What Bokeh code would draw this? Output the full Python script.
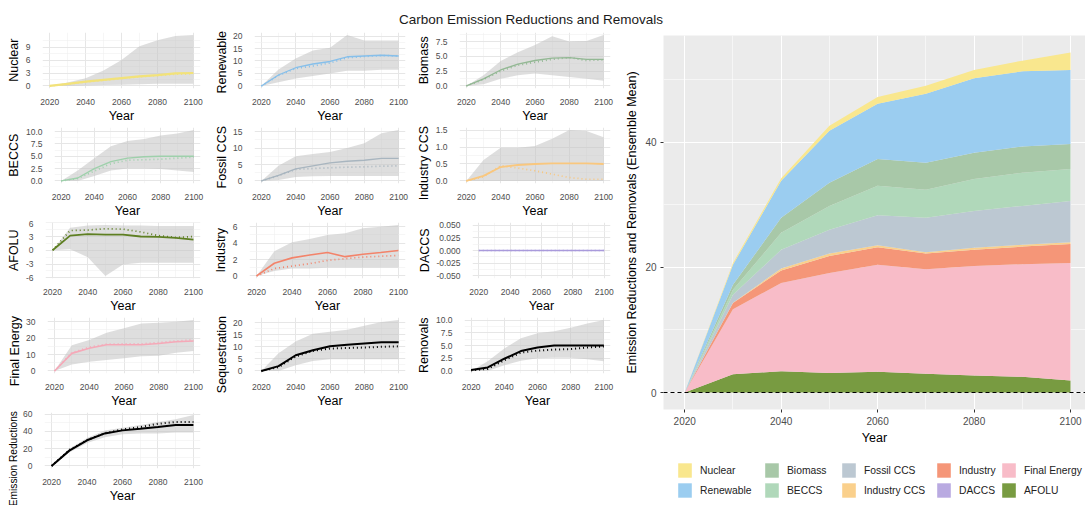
import math
from bokeh.plotting import figure
from bokeh.layouts import column, row
from bokeh.models import Div, Range1d, FixedTicker, Legend, LegendItem, Span, ColumnDataSource, Title
from bokeh.embed import file_html
from bokeh.resources import INLINE

FONT = "Liberation Sans"

years = [2020, 2030, 2040, 2050, 2060, 2070, 2080, 2090, 2100]
x_ticks = [2020, 2040, 2060, 2080, 2100]

# ---- small panels: solid line (mean), dotted line (alt), grey band (lo..hi)
nuclear_mean = [0, 0.5, 1.0, 1.4, 1.8, 2.2, 2.5, 2.9, 3.0]
nuclear_alt = [0, 0.4, 0.9, 1.3, 1.7, 2.1, 2.4, 2.7, 2.8]
nuclear_lo = [0, 0, 0.1, 0.2, 0.3, 0.4, 0.5, 0.5, 0.5]
nuclear_hi = [0, 0.8, 1.8, 3.6, 6.0, 9.2, 10.6, 11.6, 11.8]

renewable_mean = [0, 4.4, 7.3, 8.8, 9.8, 11.7, 12.0, 12.3, 12.0]
renewable_alt = [0, 4.2, 7.0, 8.0, 9.2, 11.3, 11.8, 12.2, 12.0]
renewable_lo = [0, 1.5, 3.0, 4.0, 5.0, 6.1, 6.1, 6.5, 6.5]
renewable_hi = [0, 6.6, 11.0, 14.2, 15.3, 20.4, 18.2, 18.2, 18.2]

biomass_mean = [0, 1.2, 2.7, 3.7, 4.3, 4.7, 4.8, 4.5, 4.5]
biomass_alt = [0, 1.1, 2.5, 3.5, 4.0, 4.5, 4.8, 4.3, 4.4]
biomass_lo = [0, 0.3, 1.2, 1.8, 2.1, 1.8, 1.5, 1.2, 0.9]
biomass_hi = [0, 1.8, 4.2, 5.7, 6.9, 8.4, 7.5, 7.6, 8.6]

beccs_mean = [0, 0.6, 2.5, 3.9, 4.6, 4.9, 5.0, 5.0, 5.0]
beccs_alt = [0, 0.5, 2.0, 3.5, 4.2, 4.3, 4.4, 4.6, 4.8]
beccs_lo = [0, 0, 1.0, 2.1, 2.5, 2.5, 2.4, 2.1, 1.8]
beccs_hi = [0, 2.1, 4.6, 7.0, 8.1, 8.5, 9.2, 9.6, 10.3]

fossil_ccs_mean = [0, 1.7, 3.7, 4.6, 5.5, 6.0, 6.3, 6.9, 6.9]
fossil_ccs_alt = [0, 1.6, 3.5, 3.8, 4.0, 4.2, 4.3, 4.5, 4.6]
fossil_ccs_lo = [0, 0.3, 1.2, 1.4, 1.5, 1.5, 1.5, 1.5, 1.5]
fossil_ccs_hi = [0, 4.6, 7.5, 8.2, 8.8, 10.0, 11.5, 14.5, 15.5]

industry_ccs_mean = [0, 0.15, 0.41, 0.47, 0.50, 0.52, 0.52, 0.52, 0.50]
industry_ccs_alt = [0, 0.12, 0.45, 0.38, 0.30, 0.20, 0.10, 0.05, 0.05]
industry_ccs_lo = [0, 0, 0, 0, 0, 0, 0, 0, 0]
industry_ccs_hi = [0, 0.62, 0.98, 0.98, 1.03, 1.24, 1.50, 1.47, 1.29]

afolu_mean = [0, 3.2, 3.5, 3.4, 3.4, 3.0, 2.9, 2.7, 2.3]
afolu_alt = [0, 4.3, 4.4, 4.7, 4.6, 4.0, 3.2, 2.8, 3.0]
afolu_lo = [0, 0.2, -1.5, -5.6, -3.1, -2.7, -2.7, -2.7, -2.7]
afolu_hi = [0, 4.9, 5.4, 5.5, 5.4, 5.4, 5.3, 5.3, 5.3]

industry_mean = [0, 1.55, 2.2, 2.55, 2.85, 2.35, 2.65, 2.85, 3.1]
industry_alt = [0, 0.9, 1.2, 1.5, 1.9, 2.1, 2.3, 2.4, 2.5]
industry_lo = [0, 0.6, 0.9, 0.9, 1.0, 1.0, 1.0, 1.0, 1.0]
industry_hi = [0, 3.0, 4.1, 4.5, 5.0, 5.2, 5.8, 6.0, 6.2]

daccs_mean = [0, 0, 0, 0, 0, 0, 0, 0, 0]
daccs_alt = [0, 0, 0, 0, 0, 0, 0, 0, 0]
daccs_lo = [0, 0, 0, 0, 0, 0, 0, 0, 0]
daccs_hi = [0, 0, 0, 0, 0, 0, 0, 0, 0]

final_energy_mean = [0, 10.7, 13.8, 16.0, 16.0, 16.0, 16.7, 17.8, 18.2]
final_energy_alt = [0, 11.0, 14.5, 16.3, 16.5, 16.5, 17.3, 18.3, 19.0]
final_energy_lo = [0, 4.0, 5.6, 6.7, 7.8, 8.9, 9.3, 11.1, 12.2]
final_energy_hi = [0, 15.6, 18.9, 23.3, 26.0, 28.9, 29.3, 30.0, 31.0]

sequestration_mean = [0, 2.0, 6.5, 8.6, 10.2, 10.9, 11.4, 11.9, 11.9]
sequestration_alt = [0, 1.6, 6.0, 8.3, 9.3, 9.5, 9.7, 10.0, 10.2]
sequestration_lo = [0, 0, 2.4, 4.1, 4.9, 4.9, 4.9, 4.9, 4.9]
sequestration_hi = [0, 7.3, 12.2, 15.4, 16.3, 17.1, 18.7, 20.3, 21.1]

removals_mean = [0.2, 0.7, 2.4, 3.9, 4.6, 5.0, 5.0, 5.0, 5.0]
removals_alt = [0.1, 0.4, 2.1, 3.6, 4.0, 4.2, 4.3, 4.6, 4.8]
removals_lo = [0, 0, 1.1, 2.0, 2.5, 2.6, 2.6, 2.3, 1.9]
removals_hi = [0, 1.9, 4.4, 6.4, 7.4, 7.8, 8.5, 9.3, 10.0]

reductions_mean = [0, 17.8, 29.8, 37.8, 41.3, 43.1, 45.3, 47.6, 47.6]
reductions_alt = [0, 18.5, 30.0, 38.0, 42.5, 45.0, 49.0, 51.0, 51.0]
reductions_lo = [0, 15.6, 26.7, 33.3, 36.9, 37.8, 37.8, 38.7, 38.7]
reductions_hi = [0, 20.0, 32.4, 41.3, 44.4, 47.6, 51.1, 54.2, 59.1]

# ---- big stacked panel (ensemble mean), bottom layer first
stack_afolu = [0, 2.9, 3.4, 3.1, 3.3, 3.0, 2.7, 2.5, 1.9]
stack_final_energy = [0, 10.4, 14.1, 16.0, 17.1, 16.7, 17.5, 18.0, 18.8]
stack_daccs = [0, 0, 0, 0, 0, 0, 0, 0, 0]
stack_industry = [0, 1.0, 2.0, 2.7, 2.8, 2.5, 2.6, 2.8, 3.0]
stack_industry_ccs = [0, 0.05, 0.3, 0.4, 0.3, 0.2, 0.3, 0.3, 0.3]
stack_fossil_ccs = [0, 1.25, 3.0, 3.8, 4.8, 5.5, 5.9, 6.2, 6.6]
stack_beccs = [0, 0.8, 2.7, 3.8, 4.7, 4.5, 5.1, 5.3, 5.1]
stack_biomass = [0, 0.8, 2.4, 3.7, 4.3, 4.3, 4.2, 4.2, 4.0]
stack_renewable = [0, 3.2, 5.9, 8.3, 8.8, 11.0, 11.9, 12.0, 11.8]
stack_nuclear = [0, 0.3, 0.4, 0.8, 1.1, 1.3, 1.3, 1.7, 2.8]

legend_labels = ["Nuclear", "Renewable", "Biomass", "BECCS", "Fossil CCS",
                 "Industry CCS", "Industry", "DACCS", "Final Energy", "AFOLU"]
fill_colors = ["#F9E78E", "#9BCDF0", "#A8C8A8", "#B0D8BA", "#BCC8D2",
               "#FAD08C", "#F59678", "#B9AAE1", "#F8BCC8", "#789B41"]

# approximate Arial / Liberation Sans advance widths (em) for layout estimates
_W = {"A": .667, "B": .667, "C": .722, "D": .722, "E": .667, "F": .611, "I": .278,
      "L": .556, "N": .722, "O": .778, "R": .722, "S": .667, "U": .722, "Y": .667,
      "a": .556, "b": .556, "c": .5, "d": .556, "e": .556, "g": .556, "i": .222,
      "l": .222, "m": .833, "n": .556, "o": .556, "q": .556, "r": .333, "s": .5,
      "t": .278, "u": .556, "v": .5, "w": .722, "y": .5, " ": .278, ".": .278, "-": .333}


def text_w(s, px):
    return sum(_W.get(c, .556) for c in s) * px


def style_axes(p, tick_px, label_px):
    for ax in (p.xaxis[0], p.yaxis[0]):
        ax.major_label_text_font = FONT
        ax.major_label_text_font_size = tick_px
        ax.major_label_text_color = "#4D4D4D"
        ax.axis_label_text_font = FONT
        ax.axis_label_text_font_size = label_px
        ax.axis_label_text_font_style = "normal"
        ax.axis_label_text_color = "#000000"
        ax.axis_line_color = None
        ax.minor_tick_line_color = None


def minor_of(ticks):
    step = ticks[1] - ticks[0]
    return [ticks[0] - step / 2] + [t + step / 2 for t in ticks]


SMALL_H = 95
SMALL_TOP = 2
SMALL_XAXIS = 36.5
TICK_PX = 8.5


def small_panel(ylabel, mean, alt, lo, hi, color, yticks, decimals, width, pad,
                lw=1.3, dot_w=1.7, label_px=12.5):
    vals = mean + alt + lo + hi
    vmin, vmax = min(vals), max(vals)
    d = (vmax - vmin) * 0.05
    if d == 0:
        d = 0.055
    xs = (years[-1] - years[0]) * 0.05
    tick_labels = [f"{t:.{decimals}f}" for t in yticks]
    tick_w = max(text_w(s, TICK_PX) for s in tick_labels)
    left = int(math.ceil(pad + label_px * 1.2 + 4 + tick_w + 8))
    p = figure(width=width, height=SMALL_H, output_backend="svg", toolbar_location=None,
               x_range=Range1d(years[0] - xs, years[-1] + xs),
               y_range=Range1d(vmin - d, vmax + d),
               min_border_top=SMALL_TOP, min_border_bottom=0, min_border_left=left,
               min_border_right=5, background_fill_color="white",
               border_fill_color="white", outline_line_color=None)
    p.varea(x=years, y1=lo, y2=hi, fill_color="#C2C2C2", fill_alpha=0.55)
    p.line(years, alt, line_color=color, line_width=dot_w, line_dash="1 3")
    p.line(years, mean, line_color=color, line_width=lw)
    p.xaxis.ticker = FixedTicker(ticks=x_ticks, minor_ticks=minor_of(x_ticks))
    p.yaxis.ticker = FixedTicker(ticks=yticks, minor_ticks=minor_of(yticks))
    p.yaxis.major_label_overrides = {t: s for t, s in zip(yticks, tick_labels)}
    p.xaxis.axis_label = "Year"
    style_axes(p, f"{TICK_PX}px", "12.5px")
    for ax in (p.xaxis[0], p.yaxis[0]):
        ax.major_tick_line_color = None
        ax.major_tick_out = 0
        ax.major_tick_in = 0
    p.xaxis.major_label_standoff = 6
    p.xaxis.axis_label_standoff = 1
    p.yaxis.major_label_standoff = 8
    for g in (p.xgrid[0], p.ygrid[0]):
        g.grid_line_color = "#E6E6E6"
        g.grid_line_width = 1
        g.minor_grid_line_color = "#F0F0F0"
        g.minor_grid_line_width = 0.6
    # y-axis title on the left side; centred on the frame, pushed down if too long
    L = text_w(ylabel, label_px)
    frame_h = SMALL_H - SMALL_TOP - SMALL_XAXIS
    centre = max(SMALL_TOP + frame_h / 2, L / 2 + 1)
    offset = (SMALL_TOP + frame_h) - (centre + L / 2)
    t = Title(text=ylabel, align="left", offset=offset, standoff=4,
              text_font=FONT, text_font_size=f"{label_px}px",
              text_font_style="normal", text_color="#000000")
    p.add_layout(t, "left")
    return p


W1, W2, W3 = 205, 205, 205

p_nuc = small_panel("Nuclear", nuclear_mean, nuclear_alt, nuclear_lo, nuclear_hi,
                    "#F2E27A", [0, 3, 6, 9], 0, W1, 10, lw=2.2)
p_ren = small_panel("Renewable", renewable_mean, renewable_alt, renewable_lo, renewable_hi,
                    "#86BFEA", [0, 5, 10, 15, 20], 0, W2, 12)
p_bio = small_panel("Biomass", biomass_mean, biomass_alt, biomass_lo, biomass_hi,
                    "#93B894", [0, 2.5, 5.0, 7.5], 1, W3, 10)
p_bec = small_panel("BECCS", beccs_mean, beccs_alt, beccs_lo, beccs_hi,
                    "#9ED0AB", [0, 2.5, 5.0, 7.5, 10.0], 1, W1, 10)
p_fcc = small_panel("Fossil CCS", fossil_ccs_mean, fossil_ccs_alt, fossil_ccs_lo, fossil_ccs_hi,
                    "#A8B5BF", [0, 5, 10, 15], 0, W2, 12)
p_icc = small_panel("Industry CCS", industry_ccs_mean, industry_ccs_alt, industry_ccs_lo,
                    industry_ccs_hi, "#F9C77E", [0, 0.5, 1.0, 1.5], 1, W3, 10, lw=1.8)
p_afo = small_panel("AFOLU", afolu_mean, afolu_alt, afolu_lo, afolu_hi,
                    "#5E7F22", [-6, -3, 0, 3, 6], 0, W1, 10, lw=1.8)
p_ind = small_panel("Industry", industry_mean, industry_alt, industry_lo, industry_hi,
                    "#F3836A", [0, 2, 4, 6], 0, W2, 12, lw=1.6)
p_dac = small_panel("DACCS", daccs_mean, daccs_alt, daccs_lo, daccs_hi,
                    "#A99ADB", [-0.05, -0.025, 0, 0.025, 0.05], 3, W3, 10)
p_fen = small_panel("Final Energy", final_energy_mean, final_energy_alt, final_energy_lo,
                    final_energy_hi, "#F5A9B8", [0, 10, 20, 30], 0, W1, 10, lw=1.6)
p_seq = small_panel("Sequestration", sequestration_mean, sequestration_alt, sequestration_lo,
                    sequestration_hi, "#000000", [0, 5, 10, 15, 20], 0, W2, 12,
                    lw=2.0, dot_w=2.0)
p_rem = small_panel("Removals", removals_mean, removals_alt, removals_lo, removals_hi,
                    "#000000", [0, 2.5, 5.0, 7.5, 10.0], 1, W3, 10, lw=2.0, dot_w=2.0)
p_red = small_panel("Emission Reductions", reductions_mean, reductions_alt, reductions_lo,
                    reductions_hi, "#000000", [0, 20, 40, 60], 0, W1, 10,
                    lw=2.0, dot_w=2.0, label_px=10.2)

# ---- big stacked area chart
stack_keys = ["afolu", "final_energy", "daccs", "industry", "industry_ccs",
              "fossil_ccs", "beccs", "biomass", "renewable", "nuclear"]
stack_data = [stack_afolu, stack_final_energy, stack_daccs, stack_industry,
              stack_industry_ccs, stack_fossil_ccs, stack_beccs, stack_biomass,
              stack_renewable, stack_nuclear]
src = ColumnDataSource(dict(year=years, **{k: v for k, v in zip(stack_keys, stack_data)}))
totals = [sum(vals) for vals in zip(*stack_data)]
tmax = max(totals)
ypad = tmax * 0.05

BIG_W, BIG_H, LEG_H = 470, 417, 58
BIG_LEFT = 48
big = figure(width=BIG_W, height=BIG_H, output_backend="svg", toolbar_location=None,
             x_range=Range1d(2015.6, 2103.1), y_range=Range1d(-ypad, tmax + ypad),
             min_border_top=5, min_border_right=0, min_border_left=BIG_LEFT,
             min_border_bottom=38,
             background_fill_color="#EBEBEB", border_fill_color="white",
             outline_line_color=None)
colors_bottom_up = list(reversed(fill_colors))
renderers = big.varea_stack(stackers=stack_keys, x="year", color=colors_bottom_up, source=src)
big.add_layout(Span(location=0, dimension="width", line_color="#000000",
                    line_dash="4 3", line_width=1.2))

big.xaxis.ticker = FixedTicker(ticks=x_ticks, minor_ticks=minor_of(x_ticks))
y_big_ticks = [0, 20, 40]
big.yaxis.ticker = FixedTicker(ticks=y_big_ticks, minor_ticks=minor_of(y_big_ticks))
big.xaxis.axis_label = "Year"
big.yaxis.axis_label = "Emission Reductions and Removals (Ensemble Mean)"
style_axes(big, "10px", "12.5px")
for ax in (big.xaxis[0], big.yaxis[0]):
    ax.major_tick_line_color = "#333333"
    ax.major_tick_out = 3
    ax.major_tick_in = 0
    ax.major_label_standoff = 3
    ax.axis_label_standoff = 3
for g in (big.xgrid[0], big.ygrid[0]):
    g.grid_line_color = "white"
    g.grid_line_width = 1.1
    g.minor_grid_line_color = "white"
    g.minor_grid_line_width = 0.55

# ---- legend strip under the big panel: five columns of two entries.
# The swatches come from the same stacked source, drawn outside this strip's
# visible range, so only the legend shows.
leg = figure(width=BIG_W, height=LEG_H, output_backend="svg", toolbar_location=None,
             x_axis_location=None, y_axis_location=None, min_border=0,
             x_range=Range1d(0, 1), y_range=Range1d(0, 1),
             outline_line_color=None, background_fill_color="white",
             border_fill_color="white")
leg.xgrid.visible = False
leg.ygrid.visible = False
leg_rends = leg.varea_stack(stackers=stack_keys, x="year", color=colors_bottom_up, source=src)
swatch = dict(zip(reversed(legend_labels), leg_rends))
legend_cols_x = [13, 100, 177, 272, 337]
for ci, lx in enumerate(legend_cols_x):
    labs = legend_labels[2 * ci: 2 * ci + 2]
    lg = Legend(items=[LegendItem(label=lab, renderers=[swatch[lab]]) for lab in labs],
                orientation="vertical", location=(lx, 6),
                glyph_width=17, glyph_height=18, label_standoff=7, spacing=2,
                label_text_font=FONT, label_text_font_size="10.3px",
                label_text_color="#222222", border_line_color=None,
                background_fill_alpha=0, padding=0, margin=0)
    leg.add_layout(lg)

title = Div(text=('<div style="width:1062px;text-align:center;font-family:\'Liberation Sans\';'
                  'font-size:13.5px;line-height:16px;color:#1a1a1a;padding-top:12px">'
                  'Carbon Emission Reductions and Removals</div>'),
            width=1085, height=30, margin=(0, 0, 0, 0))

grid = column(row(p_nuc, p_ren, p_bio), row(p_bec, p_fcc, p_icc),
              row(p_afo, p_ind, p_dac), row(p_fen, p_seq, p_rem), row(p_red))
layout = column(title, row(grid, column(big, leg)))

open("out.html", "w").write(file_html(layout, INLINE))
